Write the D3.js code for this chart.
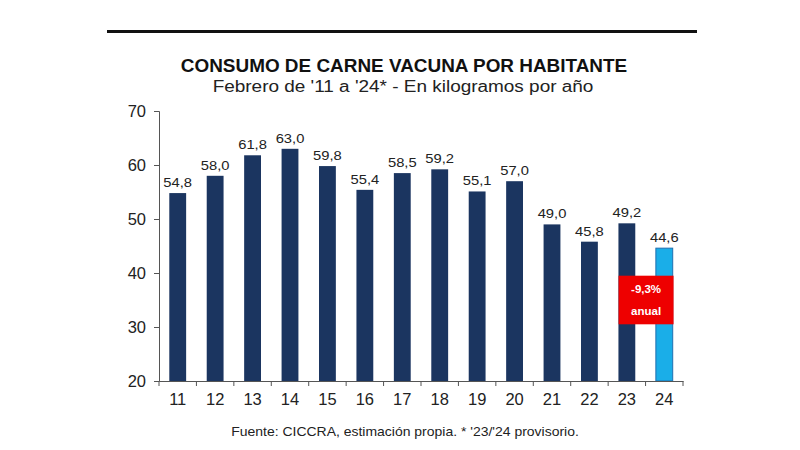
<!DOCTYPE html>
<html><head><meta charset="utf-8">
<script src="https://cdn.jsdelivr.net/npm/d3@7"></script>
<style>body{margin:0;background:#fff;}svg{display:block;font-family:"Liberation Sans",Arial,sans-serif;}</style>
</head><body>
<svg id="c" width="800" height="450"></svg>
<script>
const years = ["11","12","13","14","15","16","17","18","19","20","21","22","23","24"];
const values = [54.8,58.0,61.8,63.0,59.8,55.4,58.5,59.2,55.1,57.0,49.0,45.8,49.2,44.6];
const yTicks = [20,30,40,50,60,70];
const title = "CONSUMO DE CARNE VACUNA POR HABITANTE";
const subtitle = "Febrero de '11 a '24* - En kilogramos por año";
const source = "Fuente: CICCRA, estimación propia. * '23/'24 provisorio.";
const note = ["-9,3%","anual"];

const svg = d3.select("#c");
const fmt = v => d3.format(".1f")(v).replace(".", ",");
const place = (x,y,s) => `translate(${x},${y}) scale(${s},1)`;

svg.append("rect").attr("x",107).attr("y",30).attr("width",590).attr("height",3).attr("fill","#111");
svg.append("text").attr("transform",place(404,72,1.07)).attr("text-anchor","middle").attr("font-weight","bold").attr("font-size",17.7).attr("fill","#111").text(title);
svg.append("text").attr("transform",place(403,92,1.2)).attr("text-anchor","middle").attr("font-size",15.8).attr("fill","#222").text(subtitle);

const x = d3.scaleBand().domain(years).range([159,683]).paddingInner(0.55).paddingOuter(0.275);
const y = d3.scaleLinear().domain([20,70]).range([381,111]);

const bars = svg.append("g");
bars.selectAll("rect").data(values).join("rect")
  .attr("x",(d,i)=>x(years[i])).attr("y",d=>y(d))
  .attr("width",x.bandwidth()).attr("height",d=>y(20)-y(d))
  .attr("fill",(d,i)=> i===years.length-1 ? "#1aaee8" : "#1b3560")
  .attr("stroke",(d,i)=> i===years.length-1 ? "#1f6fb0" : "none")
  .attr("stroke-width",1);

svg.append("g").selectAll("text").data(values).join("text")
  .attr("transform",(d,i)=>place(x(years[i])+x.bandwidth()/2, y(d)-6, 1.18))
  .attr("text-anchor","middle").attr("font-size",12.5).attr("fill","#222").text(fmt);

// y axis
const ya = svg.append("g").attr("transform","translate(159,0)")
  .call(d3.axisLeft(y).tickValues(yTicks).tickSize(5).tickPadding(8));
ya.select(".domain").attr("stroke","#555");
ya.selectAll(".tick line").attr("stroke","#555");
ya.selectAll(".tick text").attr("font-size",16.5).attr("fill","#222").attr("font-family","Liberation Sans, Arial, sans-serif");

// x axis
const xa = svg.append("g").attr("transform","translate(0,381)")
  .call(d3.axisBottom(x).tickSize(0).tickPadding(12));
xa.select(".domain").attr("stroke","#555");
xa.selectAll(".tick text").attr("font-size",16.5).attr("fill","#222").attr("font-family","Liberation Sans, Arial, sans-serif");
const step = x.step();
const bounds = years.map((d,i)=> 159 + i*step).concat([683]);
xa.selectAll(".sep").data(bounds).join("line").attr("class","sep")
  .attr("x1",d=>d).attr("x2",d=>d).attr("y1",0).attr("y2",5).attr("stroke","#555");

// red annotation box
const bx = x("23") + x.bandwidth()/2 + (x("24")-x("23"))/2;
svg.append("rect").attr("x",bx-27).attr("y",y(39.5)).attr("width",55).attr("height",y(30.5)-y(39.5)).attr("fill","#ee0000");
svg.append("g").selectAll("text").data(note).join("text")
  .attr("x",bx+0.5).attr("y",(d,i)=>y(37)+ i*22 + 4).attr("text-anchor","middle")
  .attr("font-size",11.5).attr("font-weight","bold").attr("fill","#fff").text(d=>d);

svg.append("text").attr("transform",place(405,436,1.1)).attr("text-anchor","middle").attr("font-size",12.7).attr("fill","#222").text(source);
</script>
</body></html>
